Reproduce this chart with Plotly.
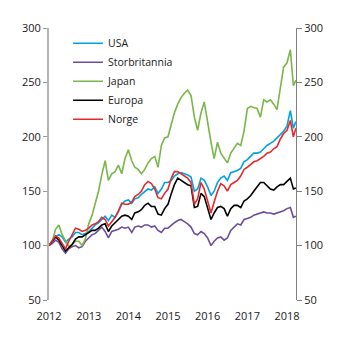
import plotly.graph_objects as go

# Monthly observation dates (index, Jan 2012 = 100)
months = [f"{2012 + m // 12}-{m % 12 + 1:02d}-01" for m in range(75)] + ["2018-03-24"]

usa = [100, 104, 108, 110, 108, 103, 106, 108, 112, 112, 110, 111,
       113, 116, 119, 121, 124, 127, 123, 128, 126, 131, 138, 141,
       142, 139, 143, 144, 147, 150, 152, 151, 154, 148, 152, 158,
       158, 160, 164, 166, 167, 166, 165, 163, 150, 152, 162, 160,
       154, 146, 150, 158, 162, 164, 160, 167, 168, 169, 171, 177,
       179, 182, 185, 185, 186, 189, 192, 194, 196, 199, 202, 205,
       210, 224, 208, 214]

uk = [100, 102, 105, 103, 97, 93, 97, 99, 100, 98, 99, 104,
      107, 110, 111, 114, 117, 113, 107, 113, 114, 115, 117, 116,
      117, 112, 117, 118, 117, 119, 119, 117, 118, 114, 112, 116,
      116, 119, 121, 123, 124, 122, 120, 117, 111, 110, 113, 111,
      107, 100, 104, 107, 108, 105, 107, 114, 117, 120, 119, 124,
      125, 126, 128, 129, 130, 131, 130, 130, 129, 130, 131, 132,
      134, 135, 126, 127]

japan = [100, 104, 115, 119, 110, 104, 99, 101, 104, 104, 100, 106,
         120, 128, 138, 150, 165, 178, 160, 166, 168, 174, 166, 180,
         188, 178, 172, 170, 166, 170, 176, 180, 182, 172, 192, 199,
         200, 212, 222, 230, 236, 240, 243, 238, 218, 206, 222, 232,
         212, 195, 180, 195, 185, 180, 176, 185, 190, 194, 192, 205,
         226, 228, 227, 226, 218, 234, 232, 234, 230, 225, 245, 264,
         268, 280, 247, 252]

europa = [100, 104, 108, 105, 100, 95, 98, 101, 106, 108, 108, 110,
          112, 114, 114, 116, 119, 120, 113, 118, 121, 124, 127, 128,
          127, 124, 130, 131, 133, 137, 139, 136, 136, 129, 128, 134,
          138, 148, 156, 162, 160, 158, 156, 155, 135, 136, 148, 145,
          135, 124, 130, 135, 136, 134, 127, 134, 137, 137, 135, 141,
          143, 146, 150, 154, 158, 158, 155, 152, 151, 154, 156, 156,
          159, 162, 152, 153]

norge = [100, 105, 109, 107, 102, 97, 104, 110, 116, 115, 113, 114,
         116, 119, 120, 122, 126, 124, 118, 122, 126, 132, 139, 138,
         138, 140, 145, 147, 150, 156, 159, 157, 152, 144, 143, 148,
         152, 162, 168, 168, 166, 164, 162, 158, 138, 143, 158, 152,
         140, 130, 140, 150, 157, 155, 150, 156, 158, 160, 164, 170,
         172, 175, 177, 178, 180, 182, 185, 186, 189, 191, 198, 203,
         206, 215, 200, 208]

series = [
    ("USA", usa, "#00A3E0"),
    ("Storbritannia", uk, "#6B4F9E"),
    ("Japan", japan, "#7AB648"),
    ("Europa", europa, "#000000"),
    ("Norge", norge, "#E8292B"),
]

year_ticks = ["2012-01-01", "2013-01-01", "2014-01-01", "2015-01-01",
              "2016-01-01", "2017-01-01", "2018-01-01"]
year_labels = ["2012", "2013", "2014", "2015", "2016", "2017", "2018"]
y_ticks = [50, 100, 150, 200, 250, 300]

FONT = "Open Sans"

fig = go.Figure()
for name, vals, col in series:
    fig.add_trace(go.Scatter(x=months, y=vals, name=name, mode="lines",
                             line=dict(color=col, width=1.6)))

# invisible trace to activate the right-hand axis
fig.add_trace(go.Scatter(x=[months[0]], y=[100], yaxis="y2", mode="lines",
                         showlegend=False, hoverinfo="skip",
                         line=dict(color="rgba(0,0,0,0)")))

fig.update_layout(
    width=346, height=341,
    margin=dict(l=49, r=50, t=28, b=41),
    paper_bgcolor="white", plot_bgcolor="white",
    font=dict(family=FONT, size=11, color="#1a1a1a"),
    showlegend=True,
    legend=dict(x=0.077, y=0.997, xanchor="left", yanchor="top",
                bgcolor="rgba(0,0,0,0)", font=dict(size=10.5),
                tracegroupgap=0, itemwidth=30),
    xaxis=dict(type="date", range=["2012-01-01", "2018-03-25"],
               tickvals=year_ticks, ticktext=year_labels,
               showgrid=False, zeroline=False, showline=False,
               ticks="outside", ticklen=6, tickcolor="rgba(0,0,0,0)",
               tickfont=dict(size=11)),
    yaxis=dict(range=[50, 300], tickvals=y_ticks, showgrid=False,
               zeroline=False, showline=True, linecolor="#b4b4b4",
               linewidth=2, ticks="outside", ticklen=4,
               tickcolor="#9a9a9a", tickwidth=1, tickfont=dict(size=11)),
    yaxis2=dict(range=[50, 300], tickvals=y_ticks, overlaying="y",
                side="right", showgrid=False, zeroline=False,
                showline=True, linecolor="#808080", linewidth=1,
                ticks="outside", ticklen=5, tickcolor="#808080",
                tickfont=dict(size=11)),
)

fig.write_html("out.html")
